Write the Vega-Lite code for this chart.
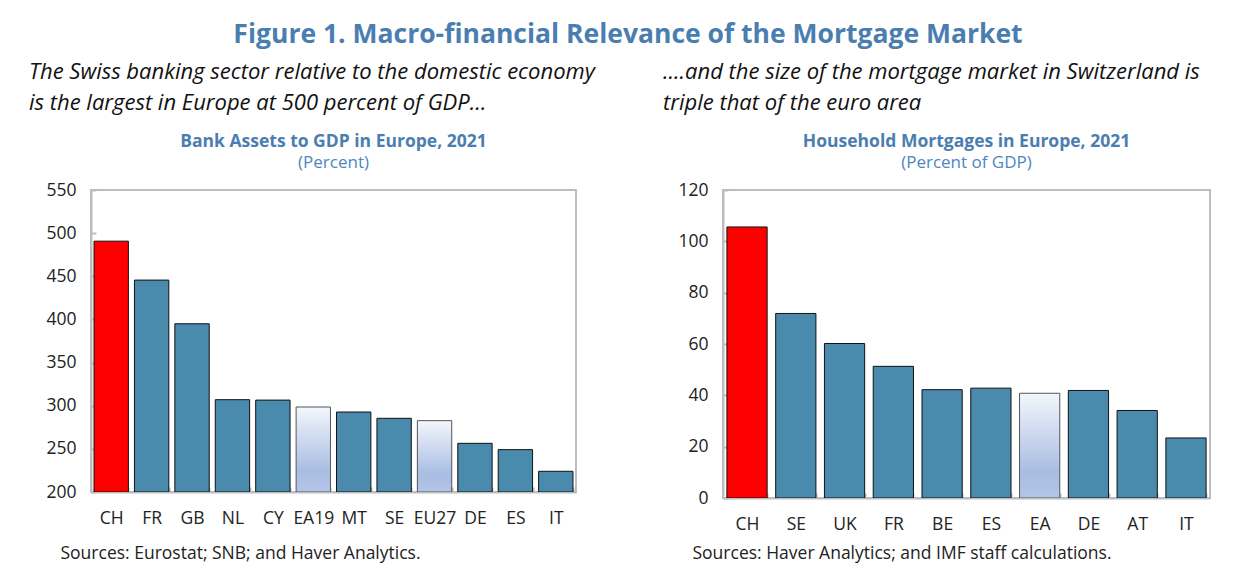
{
  "$schema": "https://vega.github.io/schema/vega-lite/v6.json",
  "background": "white",
  "padding": {"left": 28, "top": 22, "right": 10, "bottom": 0},
  "title": {"text": "Figure 1. Macro-financial Relevance of the Mortgage Market", "font": "Open Sans", "fontSize": 26.5, "fontWeight": "bold", "color": "#4a7eb0", "anchor": "middle", "offset": 12, "dx": 8},
  "spacing": 67,
  "datasets": {
    "bank": [
      {"country": "CH", "value": 490.7, "kind": "ch"},
      {"country": "FR", "value": 445.6, "kind": "country"},
      {"country": "GB", "value": 395, "kind": "country"},
      {"country": "NL", "value": 307, "kind": "country"},
      {"country": "CY", "value": 306.5, "kind": "country"},
      {"country": "EA19", "value": 298.5, "kind": "agg"},
      {"country": "MT", "value": 292.7, "kind": "country"},
      {"country": "SE", "value": 285.4, "kind": "country"},
      {"country": "EU27", "value": 282.7, "kind": "agg"},
      {"country": "DE", "value": 256.4, "kind": "country"},
      {"country": "ES", "value": 249.1, "kind": "country"},
      {"country": "IT", "value": 224, "kind": "country"}
    ],
    "mort": [
      {"country": "CH", "value": 105.6, "kind": "ch"},
      {"country": "SE", "value": 71.9, "kind": "country"},
      {"country": "UK", "value": 60.2, "kind": "country"},
      {"country": "FR", "value": 51.3, "kind": "country"},
      {"country": "BE", "value": 42.2, "kind": "country"},
      {"country": "ES", "value": 42.8, "kind": "country"},
      {"country": "EA", "value": 40.8, "kind": "agg"},
      {"country": "DE", "value": 41.9, "kind": "country"},
      {"country": "AT", "value": 34.1, "kind": "country"},
      {"country": "IT", "value": 23.4, "kind": "country"}
    ]
  },
  "hconcat": [
    {
      "title": {"text": ["The Swiss banking sector relative to the domestic economy", "is the largest in Europe at 500 percent of GDP…"], "anchor": "start", "dx": -16, "font": "Open Sans", "fontStyle": "italic", "fontWeight": "normal", "fontSize": 22, "color": "#111111", "lineHeight": 31, "offset": 17},
      "vconcat": [
        {
          "width": 485,
          "height": 302,
          "title": {"text": "Bank Assets to GDP in Europe, 2021", "subtitle": "(Percent)", "anchor": "middle", "font": "Open Sans", "fontSize": 17.5, "fontWeight": "bold", "color": "#4a7eb0", "subtitleFont": "Open Sans", "subtitleFontSize": 17, "subtitleColor": "#4f86bf", "subtitlePadding": 5, "offset": 10},
          "data": {"name": "bank"},
          "mark": {"type": "bar", "strokeWidth": 1, "clip": true},
          "encoding": {
            "x": {"field": "country", "type": "nominal", "sort": null,
                  "scale": {"paddingInner": 0.15, "paddingOuter": 0.075},
                  "axis": {"labelAngle": 0, "title": "Sources: Eurostat; SNB; and Haver Analytics.", "titleAnchor": "start", "titleX": -31, "titlePadding": 18}},
            "y": {"field": "value", "type": "quantitative",
                  "scale": {"domain": [200, 550], "nice": false, "zero": false},
                  "axis": {"values": [200, 250, 300, 350, 400, 450, 500, 550], "title": null}},
            "y2": {"datum": 200},
            "fill": {"condition": [
                {"test": "datum.kind === 'ch'", "value": "#ff0000"},
                {"test": "datum.kind === 'agg'", "value": {"gradient": "linear", "x1": 0, "y1": 0, "x2": 0, "y2": 1, "stops": [{"offset": 0, "color": "#f3f6fc"}, {"offset": 0.75, "color": "#a9bde3"}, {"offset": 1, "color": "#b3c5e7"}]}}
              ], "value": "#4a8aad"},
            "stroke": {"condition": {"test": "datum.kind === 'agg'", "value": "#555555"}, "value": "#111111"}
          }
        }
      ]
    },
    {
      "title": {"text": ["....and the size of the mortgage market in Switzerland is", "triple that of the euro area"], "anchor": "start", "dx": -14, "font": "Open Sans", "fontStyle": "italic", "fontWeight": "normal", "fontSize": 22, "color": "#111111", "lineHeight": 31, "offset": 17},
      "vconcat": [
        {
          "width": 487,
          "height": 308,
          "title": {"text": "Household Mortgages in Europe, 2021", "subtitle": "(Percent of GDP)", "anchor": "middle", "font": "Open Sans", "fontSize": 17.5, "fontWeight": "bold", "color": "#4a7eb0", "subtitleFont": "Open Sans", "subtitleFontSize": 17, "subtitleColor": "#4f86bf", "subtitlePadding": 5, "offset": 10},
          "data": {"name": "mort"},
          "mark": {"type": "bar", "strokeWidth": 1, "clip": true},
          "encoding": {
            "x": {"field": "country", "type": "nominal", "sort": null,
                  "scale": {"paddingInner": 0.175, "paddingOuter": 0.08},
                  "axis": {"labelAngle": 0, "title": "Sources: Haver Analytics; and IMF staff calculations.", "titleAnchor": "start", "titleX": -31, "titlePadding": 12}},
            "y": {"field": "value", "type": "quantitative",
                  "scale": {"domain": [0, 120], "nice": false},
                  "axis": {"values": [0, 20, 40, 60, 80, 100, 120], "title": null}},
            "fill": {"condition": [
                {"test": "datum.kind === 'ch'", "value": "#ff0000"},
                {"test": "datum.kind === 'agg'", "value": {"gradient": "linear", "x1": 0, "y1": 0, "x2": 0, "y2": 1, "stops": [{"offset": 0, "color": "#f3f6fc"}, {"offset": 0.75, "color": "#a9bde3"}, {"offset": 1, "color": "#b3c5e7"}]}}
              ], "value": "#4a8aad"},
            "stroke": {"condition": {"test": "datum.kind === 'agg'", "value": "#555555"}, "value": "#111111"}
          }
        }
      ]
    }
  ],
  "config": {
    "view": {"stroke": "#bdbdbd", "strokeWidth": 2},
    "axis": {"labelFont": "Open Sans", "labelFontSize": 17.5, "labelColor": "#222222", "titleFont": "Open Sans", "titleFontSize": 17.5, "titleFontWeight": "normal", "titleColor": "#222222", "domainColor": "#bdbdbd", "domainWidth": 2, "tickColor": "#bdbdbd", "tickWidth": 2, "grid": false},
    "axisX": {"ticks": true, "tickSize": -5, "tickBand": "extent", "labelPadding": 22},
    "axisY": {"ticks": true, "tickSize": -5, "labelPadding": 20}
  }
}
